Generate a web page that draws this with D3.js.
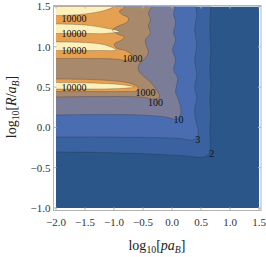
<!DOCTYPE html>
<html>
<head>
<meta charset="utf-8">
<script src="https://cdn.jsdelivr.net/npm/d3@7"></script>
<style>
  body { margin: 0; background: #fff; }
  text { font-family: "Liberation Serif", "DejaVu Serif", serif; }
</style>
</head>
<body>
<div id="chart"></div>
<script>
// contour levels and band colours (lowest band first)
const levels = [2, 3, 10, 100, 1000, 10000];
const bandColors = ["#2b5689", "#3a62a0", "#4a6db2", "#7b7d98", "#a8896b", "#e6a052", "#fdf0ba"];
const xTicks = [-2, -1.5, -1, -0.5, 0, 0.5, 1, 1.5];
const yTicks = [-1, -0.5, 0, 0.5, 1, 1.5];

// level curves, [log10 p aB, log10 R/aB]
const curve2 = [[-2,-0.305],[-1.237,-0.311],[-0.371,-0.330],[0.149,-0.349],[0.548,-0.367],[0.634,-0.330],
  [0.660,-0.218],[0.652,-0.032],[0.669,0.154],[0.652,0.340],[0.669,0.526],[0.652,0.712],[0.669,0.960],
  [0.652,1.208],[0.669,1.5]];
const curve3 = [[-2,-0.119],[-1.237,-0.119],[-0.371,-0.125],[0.149,-0.138],[0.357,-0.156],[0.444,-0.119],
  [0.444,-0.007],[0.409,0.092],[0.392,0.241],[0.426,0.365],[0.392,0.489],[0.426,0.650],[0.392,0.836],
  [0.426,1.022],[0.392,1.208],[0.426,1.395],[0.409,1.5]];
const curve10 = [[-2,0.154],[-1.237,0.160],[-0.544,0.154],[-0.111,0.129],[0.080,0.104],[0.149,0.166],
  [0.149,0.241],[0.114,0.340],[0.062,0.439],[0.080,0.526],[0.097,0.613],[0.028,0.712],[0.062,0.836],
  [0.010,0.960],[0.062,1.084],[0.028,1.171],[0.062,1.308],[0.028,1.407],[0.062,1.5]];
const curve100 = [[-2,0.377],[-1.237,0.383],[-0.544,0.377],[-0.284,0.352],[-0.215,0.377],[-0.267,0.464],
  [-0.371,0.563],[-0.492,0.638],[-0.579,0.712],[-0.562,0.787],[-0.458,0.861],[-0.406,0.935],[-0.440,1.010],
  [-0.458,1.084],[-0.371,1.171],[-0.406,1.258],[-0.371,1.345],[-0.406,1.419],[-0.336,1.5]];
const curve1000top = [[-2,0.855],[-1.411,0.855],[-0.977,0.849],[-0.752,0.836],[-0.683,0.886],[-0.787,0.948],
  [-0.960,0.985],[-0.995,1.035],[-0.873,1.084],[-0.822,1.122],[-0.943,1.159],[-1.029,1.208],[-0.925,1.258],
  [-0.770,1.308],[-0.752,1.357],[-0.873,1.407],[-0.908,1.444],[-0.839,1.475],[-0.822,1.5]];
const curve1000low = [[-2,0.600],[-1.411,0.594],[-0.891,0.569],[-0.683,0.538],[-0.579,0.489],[-0.614,0.452],
  [-0.804,0.445],[-1.411,0.445],[-2,0.445]];
const curve10000a = [[-2,1.388],[-1.584,1.401],[-1.237,1.438],[-1.047,1.481],[-1.012,1.5]];
const curve10000b = [[-2,1.283],[-1.497,1.270],[-1.151,1.233],[-0.908,1.190],[-1.151,1.165],[-1.497,1.165],[-2,1.165]];
const curve10000c = [[-2,1.060],[-1.497,1.053],[-1.151,1.022],[-0.960,0.960],[-1.237,0.954],[-1.584,0.954],[-2,0.954]];
const curve10000d = [[-2,0.557],[-1.411,0.551],[-0.891,0.532],[-0.648,0.501],[-0.891,0.483],[-1.411,0.476],[-2,0.476]];

// which curves bound the region above each level (corner: closes through top-left corner)
const regions = [
  { level: 2, curves: [{ pts: curve2, corner: true }] },
  { level: 3, curves: [{ pts: curve3, corner: true }] },
  { level: 10, curves: [{ pts: curve10, corner: true }] },
  { level: 100, curves: [{ pts: curve100, corner: true }] },
  { level: 1000, curves: [{ pts: curve1000top, corner: true }, { pts: curve1000low, corner: false }] },
  { level: 10000, curves: [{ pts: curve10000a, corner: true }, { pts: curve10000b, corner: false },
                           { pts: curve10000c, corner: false }, { pts: curve10000d, corner: false }] }
];

// contour labels: text and where it sits
const labelText = ["10000", "10000", "10000", "10000", "1000", "1000", "100", "10", "3", "2"];
const labelPos = [[-1.688,1.357],[-1.688,1.159],[-1.688,0.960],[-1.688,0.501],[-0.683,0.861],
  [-0.458,0.439],[-0.284,0.315],[0.114,0.104],[0.444,-0.156],[0.686,-0.318]];

const W = 266, H = 257;
const plot = { left: 56, right: 259, top: 6.5, bottom: 208 };

const svg = d3.select("#chart").append("svg")
  .attr("width", W)
  .attr("height", H);

const x = d3.scaleLinear().domain([-2, 1.5]).range([plot.left, plot.right]);
const y = d3.scaleLinear().domain([-1, 1.5]).range([plot.bottom, plot.top]);

svg.append("clipPath").attr("id", "clip")
  .append("rect")
  .attr("x", plot.left).attr("y", plot.top)
  .attr("width", plot.right - plot.left).attr("height", plot.bottom - plot.top);

const g = svg.append("g").attr("clip-path", "url(#clip)");

// lowest band fills everything
g.append("rect")
  .attr("x", plot.left).attr("y", plot.top)
  .attr("width", plot.right - plot.left).attr("height", plot.bottom - plot.top)
  .attr("fill", bandColors[0]);

const line = d3.line()
  .x(d => x(d[0]))
  .y(d => y(d[1]))
  .curve(d3.curveCatmullRom.alpha(0.5));

regions.forEach((r, i) => {
  r.curves.forEach(c => {
    let d = line(c.pts);
    if (c.corner) d += `L${x(-2)},${y(1.5)}`;
    d += "Z";
    g.append("path").attr("d", d).attr("fill", bandColors[i + 1]);
  });
});

// contour lines on top
regions.forEach(r => {
  r.curves.forEach(c => {
    g.append("path")
      .attr("d", line(c.pts))
      .attr("fill", "none")
      .attr("stroke", "rgba(40,40,40,0.45)")
      .attr("stroke-width", 0.6);
  });
});

// contour labels
g.selectAll("text.lab")
  .data(labelText)
  .enter().append("text")
  .attr("class", "lab")
  .attr("x", (d, i) => x(labelPos[i][0]))
  .attr("y", (d, i) => y(labelPos[i][1]))
  .attr("dy", "0.35em")
  .attr("text-anchor", "middle")
  .attr("font-size", 10)
  .attr("fill", "#111")
  .text(d => d);

// frame
const frame = { left: 53.5, right: 261, top: 5.5, bottom: 210.5 };
svg.append("rect")
  .attr("x", frame.left).attr("y", frame.top)
  .attr("width", frame.right - frame.left).attr("height", frame.bottom - frame.top)
  .attr("fill", "none")
  .attr("stroke", "#b4b4b4")
  .attr("stroke-width", 1);

// ticks on all four sides, labels on bottom and left
const tickLen = 3;
xTicks.forEach(t => {
  svg.append("line").attr("x1", x(t)).attr("x2", x(t))
    .attr("y1", frame.bottom).attr("y2", frame.bottom - tickLen)
    .attr("stroke", "#b4b4b4");
  svg.append("line").attr("x1", x(t)).attr("x2", x(t))
    .attr("y1", frame.top).attr("y2", frame.top + tickLen)
    .attr("stroke", "#b4b4b4");
});
yTicks.forEach(t => {
  svg.append("line").attr("x1", frame.left).attr("x2", frame.left + tickLen)
    .attr("y1", y(t)).attr("y2", y(t))
    .attr("stroke", "#b4b4b4");
  svg.append("line").attr("x1", frame.right).attr("x2", frame.right - tickLen)
    .attr("y1", y(t)).attr("y2", y(t))
    .attr("stroke", "#b4b4b4");
});

const fmt = d3.format(".1f");
svg.selectAll("text.xt")
  .data(xTicks)
  .enter().append("text")
  .attr("class", "xt")
  .attr("x", d => x(d))
  .attr("y", frame.bottom + 15)
  .attr("text-anchor", "middle")
  .attr("font-size", 11)
  .attr("fill", "#333")
  .text(d => fmt(d).replace("-", "\u2212"));

svg.selectAll("text.yt")
  .data(yTicks)
  .enter().append("text")
  .attr("class", "yt")
  .attr("x", frame.left - 3)
  .attr("y", d => y(d))
  .attr("dy", "0.35em")
  .attr("text-anchor", "end")
  .attr("font-size", 11)
  .attr("fill", "#333")
  .text(d => fmt(d).replace("-", "\u2212"));

// axis titles
function title(sel, parts) {
  parts.forEach(p => {
    const t = sel.append("tspan").text(p.t);
    if (p.i) t.attr("font-style", "italic");
    if (p.sub) t.attr("font-size", "70%").attr("dy", "0.3em");
    if (p.up) t.attr("dy", "-0.21em");
  });
}

const xt = svg.append("text")
  .attr("x", 157).attr("y", 250)
  .attr("text-anchor", "middle")
  .attr("font-size", 14)
  .attr("fill", "#222");
title(xt, [{ t: "log" }, { t: "10", sub: true }, { t: "[", up: true }, { t: "pa", i: true },
  { t: "B", i: true, sub: true }, { t: "]", up: true }]);

const yt = svg.append("text")
  .attr("transform", "translate(16,107) rotate(-90)")
  .attr("text-anchor", "middle")
  .attr("font-size", 14)
  .attr("fill", "#222");
title(yt, [{ t: "log" }, { t: "10", sub: true }, { t: "[", up: true }, { t: "R", i: true }, { t: "/" },
  { t: "a", i: true }, { t: "B", i: true, sub: true }, { t: "]", up: true }]);
</script>
</body>
</html>
